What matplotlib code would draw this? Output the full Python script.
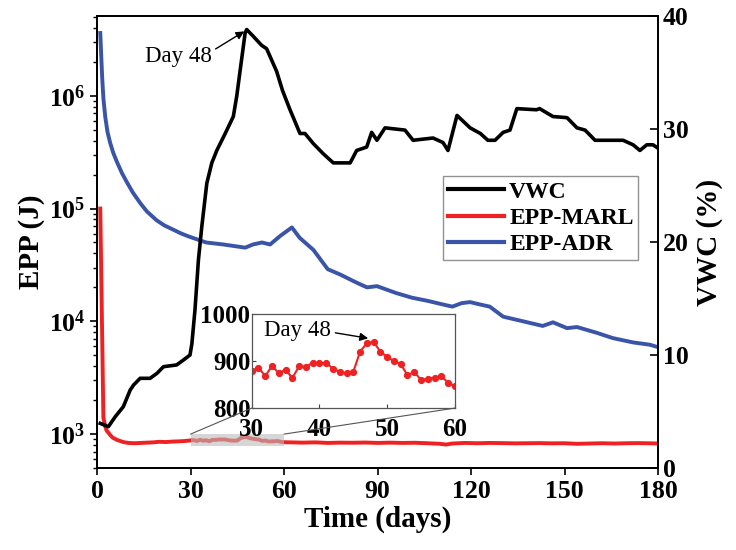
import matplotlib
matplotlib.use('Agg')
import matplotlib.pyplot as plt
from matplotlib.patches import Rectangle, ConnectionPatch
from matplotlib.lines import Line2D
from matplotlib.ticker import FixedLocator, FixedFormatter, LogLocator, NullFormatter

plt.rcParams['font.family'] = ['Liberation Serif', 'DejaVu Serif']
plt.rcParams['font.weight'] = 'bold'
plt.rcParams['mathtext.fontset'] = 'custom'
plt.rcParams['mathtext.rm'] = 'Liberation Serif:bold'
plt.rcParams['mathtext.it'] = 'Liberation Serif:bold'
plt.rcParams['mathtext.bf'] = 'Liberation Serif:bold'

# ---- data ----
vwc_days = [1, 3.6, 5.8, 8.4, 10.6, 11.7, 13.8, 17, 19.2, 21.3, 25.5, 27.7, 29.8, 30.4,
            31.4, 32.5, 33.6, 35.2, 36.8, 38.4, 41.1, 43.7, 44.8, 45.9, 47.5, 48, 50.1,
            52.8, 54.4, 56, 57.6, 59.5, 61.9, 65.1, 66.7, 69.4, 72.6, 75.8, 81.2, 83.3,
            86.5, 88.1, 89.8, 92.4, 98.8, 101.4, 107.8, 111, 112.6, 115.5, 119.7, 123,
            125.4, 127.7, 130.3, 132.5, 134.7, 141, 142, 146.3, 150.8, 154, 156.6, 159.8,
            168.8, 172, 174.2, 176.4, 178.4, 180]
vwc_vals = [3.95, 3.66, 4.54, 5.43, 6.9, 7.35, 7.94, 7.94, 8.38, 8.97, 9.12, 9.56, 10.0, 11.0,
            14.0, 18.4, 21.4, 25.2, 27.0, 28.1, 29.6, 31.1, 32.9, 35.2, 38.5, 38.8, 38.2,
            37.4, 37.1, 36.1, 35.1, 33.4, 31.7, 29.6, 29.6, 28.7, 27.8, 27.0, 27.0, 28.1,
            28.4, 29.7, 29.0, 30.1, 29.9, 29.0, 29.2, 28.8, 28.1, 31.2, 30.1, 29.6,
            29.0, 29.0, 29.7, 29.9, 31.8, 31.7, 31.8, 31.1, 31.0, 30.1, 29.9, 29.0,
            29.0, 28.6, 28.1, 28.6, 28.6, 28.3]

marl_days = [1, 2, 2.6, 3, 4.2, 5, 6.3, 8.4, 10, 12, 14, 16, 18, 20, 22, 24, 26, 28,
             30, 31, 32, 33, 34, 35, 36, 37, 38, 39, 40, 41, 42, 43, 44, 45, 46, 47, 48,
             49, 50, 51, 52, 53, 54, 55, 56, 57, 58, 59, 60,
             62, 66, 70, 74, 78, 82, 86, 90, 94, 98, 102, 106, 110, 112, 114, 118, 122,
             126, 130, 134, 138, 142, 146, 150, 154, 158, 162, 166, 170, 174, 178, 180]
marl_vals = [1.0e5, 1400, 1170, 1080, 980, 930, 890, 850, 835, 830, 835, 840, 845, 855, 850,
             858, 862, 868,
             879, 886, 868, 890, 874, 882, 864, 889, 888, 896, 895, 896, 884, 877, 874,
             877, 920, 938, 941, 920, 909, 900, 894, 870, 877, 860, 862, 865, 868, 854, 847,
             845, 840, 845, 835, 840, 838, 842, 835, 840, 835, 838, 830, 820, 808, 825, 835,
             830, 835, 832, 828, 830, 832, 828, 830, 820, 825, 830, 825, 830, 832, 828, 825]

adr_days = [1, 1.3, 1.6, 2.0, 2.6, 3.3, 4.2, 5.2, 6.4, 8, 9.6, 11.5, 13.8, 16, 19, 21.5, 24.4,
            27, 29.8, 35, 40.5, 47.5, 50, 52.9, 55.5, 58.7, 62.5, 65, 69.4, 74, 78, 83.3,
            86.6, 89.8, 96, 101, 106, 111, 114, 117, 119.7, 122.9, 126, 130.3, 136.7, 143,
            146.3, 150.8, 154, 160.4, 165.5, 172, 177.4, 180]
adr_vals = [3.6e6, 2.3e6, 1.48e6, 9.5e5, 6.5e5, 4.8e5, 3.8e5, 3.1e5, 2.57e5, 2.05e5, 1.7e5,
            1.38e5, 1.12e5, 9.4e4, 7.9e4, 7.1e4, 6.5e4, 6.0e4, 5.6e4, 5.0e4, 4.8e4, 4.5e4,
            4.8e4, 5.0e4, 4.8e4, 5.7e4, 6.8e4, 5.5e4, 4.3e4, 2.9e4, 2.6e4, 2.2e4, 2.0e4,
            2.05e4, 1.78e4, 1.62e4, 1.52e4, 1.41e4, 1.35e4, 1.45e4, 1.48e4, 1.41e4, 1.35e4,
            1.1e4, 1.0e4, 9.1e3, 9.8e3, 8.7e3, 8.9e3, 7.9e3, 7.1e3, 6.5e3, 6.2e3, 5.9e3]

x_ticks = [0, 30, 60, 90, 120, 150, 180]
epp_ticks = [1e3, 1e4, 1e5, 1e6]
epp_labels = [r'$10^{3}$', r'$10^{4}$', r'$10^{5}$', r'$10^{6}$']
vwc_ticks = [0, 10, 20, 30, 40]
inset_xticks = [30, 40, 50, 60]
inset_yticks = [800, 900, 1000]

c_red = '#ee2222'
c_blue = '#3a55a8'
fs = 18.5

fig = plt.figure(figsize=(7.36, 5.5), dpi=100)
ax1 = fig.add_axes([0.132, 0.149, 0.762, 0.822])
ax2 = ax1.twinx()

ax1.plot(adr_days, adr_vals, color=c_blue, lw=2.8, zorder=2)
ax1.plot(marl_days, marl_vals, color=c_red, lw=2.8, zorder=3)
ax2.plot(vwc_days, vwc_vals, color='black', lw=2.6, zorder=3)

ax1.set_yscale('log')
ax1.set_xlim(0, 180)
ax1.set_ylim(500, 5.1e6)
ax2.set_ylim(0, 40)
ax1.set_xticks(x_ticks)
ax1.yaxis.set_major_locator(FixedLocator(epp_ticks))
ax1.yaxis.set_major_formatter(FixedFormatter(epp_labels))
ax1.yaxis.set_minor_locator(LogLocator(base=10, subs=range(2, 10)))
ax1.yaxis.set_minor_formatter(NullFormatter())
ax2.set_yticks(vwc_ticks)

ax1.tick_params(axis='both', which='major', direction='out', length=5, width=1.2, labelsize=fs)
ax1.tick_params(axis='y', which='minor', direction='out', length=3, width=1.0)
ax2.tick_params(axis='y', direction='in', length=6, width=1.2, labelsize=fs)
for ax in (ax1, ax2):
    for s in ax.spines.values():
        s.set_linewidth(1.3)

ax1.set_xlabel('Time (days)', fontsize=21, fontweight='bold', labelpad=2)
ax1.set_ylabel('EPP (J)', fontsize=21, fontweight='bold', labelpad=3)
ax2.set_ylabel('VWC (%)', fontsize=21, fontweight='bold', labelpad=5)

ax2.annotate('Day 48', xy=(47.6, 38.7), xytext=(26, 36.4), fontsize=16.5, fontweight='normal',
             ha='center', va='center',
             arrowprops=dict(arrowstyle='-|>', color='black', lw=1.0, shrinkA=1, shrinkB=1,
                             mutation_scale=12, relpos=(1.0, 0.75)))

# zoom region
ax1.add_patch(Rectangle((30, 785), 30, 215, facecolor='#bbbbbb', alpha=0.6,
                        edgecolor='none', zorder=4))

handles = [Line2D([], [], color='black', lw=3),
           Line2D([], [], color=c_red, lw=3),
           Line2D([], [], color=c_blue, lw=3)]
leg = ax2.legend(handles, ['VWC', 'EPP-MARL', 'EPP-ADR'], loc='upper right',
                 bbox_to_anchor=(0.965, 0.645), fontsize=17, frameon=True, fancybox=False,
                 handlelength=2.4, handletextpad=0.2, labelspacing=0.2, borderpad=0.2,
                 borderaxespad=0)
leg.get_frame().set_edgecolor('#777777')
leg.get_frame().set_linewidth(1.0)
leg.set_zorder(10)

# inset
axins = fig.add_axes([0.342, 0.258, 0.276, 0.171])
axins.plot(marl_days, marl_vals, color=c_red, lw=1.5, marker='o', ms=4.2)
axins.set_xlim(30, 60)
axins.set_ylim(800, 1000)
axins.set_xticks(inset_xticks)
axins.set_yticks(inset_yticks)
axins.tick_params(direction='in', length=3, width=0.8, labelsize=18, colors='#444444',
                  labelcolor='black')
axins.tick_params(axis='x', pad=7)
axins.tick_params(axis='y', pad=1)
for s in axins.spines.values():
    s.set_linewidth(0.9)
    s.set_edgecolor('#555555')
axins.annotate('Day 48', xy=(47.4, 948), xytext=(36.8, 966), fontsize=16.5, fontweight='normal',
               ha='center', va='center',
               arrowprops=dict(arrowstyle='-|>', color='black', lw=1.0, shrinkA=1, shrinkB=1,
                               mutation_scale=12, relpos=(1.0, 0.4)))

for xa, xb in ((30, 0), (60, 1)):
    con = ConnectionPatch(xyA=(xa, 1000), coordsA=ax1.transData,
                          xyB=(xb, 0), coordsB=axins.transAxes,
                          color='#555555', lw=0.8)
    fig.add_artist(con)

fig.savefig('out.png', dpi=100)
